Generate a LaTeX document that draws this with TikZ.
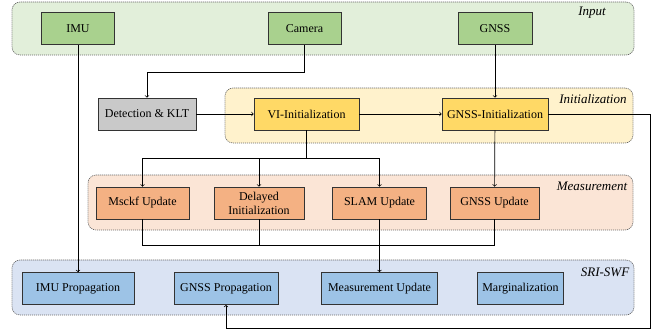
\documentclass[tikz,border=0pt]{standalone}
\usepackage{fontspec}
\setmainfont{Liberation Serif}
\definecolor{inbg}{HTML}{E2EFDA}
\definecolor{inbox}{HTML}{A9D18E}
\definecolor{initbg}{HTML}{FFF2CC}
\definecolor{initbox}{HTML}{FFD966}
\definecolor{measbg}{HTML}{FBE5D6}
\definecolor{measbox}{HTML}{F4B183}
\definecolor{swfbg}{HTML}{DAE3F3}
\definecolor{swfbox}{HTML}{9DC3E6}
\definecolor{detbox}{HTML}{C9C9C9}
\begin{document}
\begin{tikzpicture}[x=1pt, y=-1pt,
  grp/.style={draw=black!60, dash pattern=on 1.2pt off 0.8pt,
              rounded corners=8pt, line width=0.6pt},
  blk/.style={draw=black!80, line width=0.7pt, minimum height=32pt,
              font=\fontsize{12}{14}\selectfont, align=center, inner sep=1pt},
  glbl/.style={font=\fontsize{13}{15}\selectfont\itshape, inner sep=1pt},
  conn/.style={line width=0.7pt},
]
\useasboundingbox (0,0) rectangle (651,335);

\node[grp, fill=inbg, minimum width=622pt, minimum height=53pt] (ingrp) at (323,28.5) {};
\node[grp, fill=initbg, minimum width=408pt, minimum height=55pt] (initgrp) at (429,115.5) {};
\node[grp, fill=measbg, minimum width=545pt, minimum height=55pt] (measgrp) at (360.5,202.5) {};
\node[grp, fill=swfbg, minimum width=622pt, minimum height=55pt] (swfgrp) at (323,287.5) {};

\node[glbl] (inlbl)   at (592,13)  {Input};
\node[glbl] (initlbl) at (593,99)  {Initialization};
\node[glbl] (measlbl) at (592,186) {Measurement};
\node[glbl] (swflbl)  at (605,272) {SRI-SWF};

\node[blk, fill=inbox, minimum width=73pt] (imu) at (78,28.5)    {IMU};
\node[blk, fill=inbox, minimum width=73pt] (cam) at (304.5,28.5) {Camera};
\node[blk, fill=inbox, minimum width=74pt] (gnss) at (495,28.5)  {GNSS};

\node[blk, fill=detbox, minimum width=98pt] (det) at (147,114)        {Detection \& KLT};
\node[blk, fill=initbox, minimum width=105pt] (viinit) at (306.5,114) {VI-Initialization};
\node[blk, fill=initbox, minimum width=106pt] (gnssinit) at (495,114) {GNSS-Initialization};

\node[blk, fill=measbox, minimum width=93pt] (msckf) at (142.5,203)  {Msckf Update};
\node[blk, fill=measbox, minimum width=90pt] (delayed) at (259,203)  {Delayed\\Initialization};
\node[blk, fill=measbox, minimum width=94pt] (slam) at (379.5,203)   {SLAM Update};
\node[blk, fill=measbox, minimum width=89pt] (gnssupd) at (494.5,203) {GNSS Update};

\node[blk, fill=swfbox, minimum width=112pt] (imuprop) at (78,288.5)  {IMU Propagation};
\node[blk, fill=swfbox, minimum width=104pt] (gprop) at (226,288.5)   {GNSS Propagation};
\node[blk, fill=swfbox, minimum width=116pt] (mupd) at (379.5,288.5)  {Measurement Update};
\node[blk, fill=swfbox, minimum width=86pt] (marg) at (520.5,288.5)   {Marginalization};

\coordinate (vsplit) at (306.5,158);
\coordinate (merge) at (379.5,245);
\coordinate (rbot) at (650,328);

\draw[conn, ->] (imu) -- (imuprop);
\draw[conn, ->] (cam.south) -- ++(0,27) -| (det.north);
\draw[conn, ->] (gnss) -- (gnssinit);
\draw[conn, ->] (det) -- (viinit);
\draw[conn, ->] (viinit) -- (gnssinit);
\draw[conn] (viinit.south) -- (vsplit);
\draw[conn, ->] (vsplit) -| (msckf.north);
\draw[conn, ->] (vsplit) -| (delayed.north);
\draw[conn, ->] (vsplit) -| (slam.north);
\draw[conn, ->] (gnssinit) -- (gnssupd);
\draw[conn] (msckf.south) |- (merge);
\draw[conn] (delayed.south) |- (merge);
\draw[conn] (gnssupd.south) |- (merge);
\draw[conn, ->] (slam) -- (mupd);
\draw[conn, ->] (gnssinit.east) -| (rbot) -| (gprop.south);
\end{tikzpicture}
\end{document}
